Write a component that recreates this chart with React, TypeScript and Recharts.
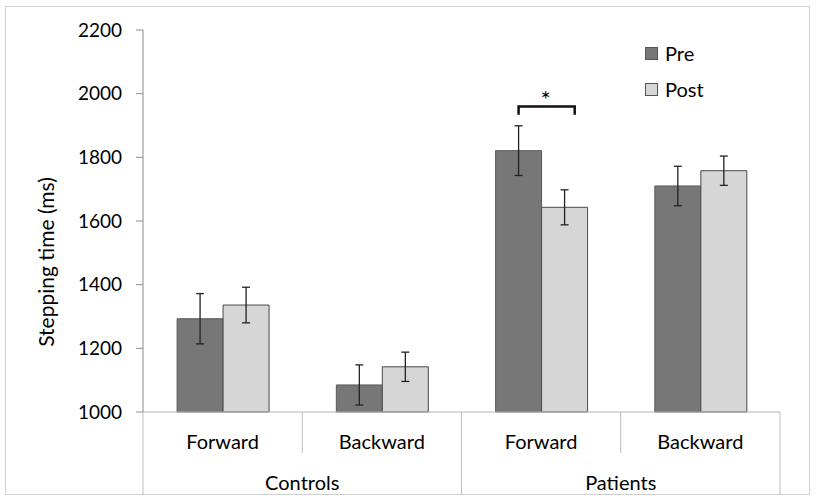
import React from 'react';
import { BarChart, Bar, XAxis, YAxis, ErrorBar, Legend } from 'recharts';

const categories = ['Forward', 'Backward', 'Forward', 'Backward'];
const groups = ['Controls', 'Controls', 'Patients', 'Patients'];
const preValues = [1293, 1085, 1821, 1710];
const preErrors = [79, 63, 78, 62];
const postValues = [1336, 1142, 1643, 1758];
const postErrors = [56, 46, 55, 46];
const yTicks = [1000, 1200, 1400, 1600, 1800, 2000, 2200];

// significance bracket over patients forward
const sigIndex = 2;
const sigLevel = 1960;
const sigLeg = 26;

const FONT = 'Lato, "DejaVu Sans", sans-serif';
const PRE_COLOR = '#777777';
const POST_COLOR = '#d6d6d6';

const data = categories.map((c, i) => ({
    key: `${groups[i]}-${c}`,
    cond: c,
    group: groups[i],
    pre: preValues[i],
    preErr: preErrors[i],
    post: postValues[i],
    postErr: postErrors[i],
}));

function CategoryTick(props: any) {
    const { x, y, payload, index } = props;
    const half = payload && payload.offset ? payload.offset : 79.6;
    const left = x - half;
    const longLine = index % 2 === 0;
    return (
        <g>
            <line x1={left} y1={y} x2={left} y2={y + (longLine ? 83 : 41)} stroke="#bdbdbd" />
            {index === categories.length - 1 && (
                <line x1={x + half} y1={y} x2={x + half} y2={y + 83} stroke="#bdbdbd" />
            )}
            <text x={x} y={y + 37} textAnchor="middle" fontFamily={FONT} fontSize={20} fill="#000">
                {categories[index]}
            </text>
            {longLine && (
                <text x={x + half} y={y + 78} textAnchor="middle" fontFamily={FONT} fontSize={20} fill="#000">
                    {groups[index]}
                </text>
            )}
        </g>
    );
}

function SigBracket(props: any) {
    const { x, y, width, height, value, index } = props;
    if (index !== sigIndex) return null;
    const perUnit = height / (value - yTicks[0]);
    const base = y + height;
    const yAt = (v: number) => base - (v - yTicks[0]) * perUnit;
    const x1 = x + width / 2;
    const x2 = x + width * 1.72;
    const top = yAt(sigLevel);
    const leg = yAt(sigLevel - sigLeg);
    return (
        <g>
            <path d={`M${x1},${leg} L${x1},${top} L${x2},${top} L${x2},${leg}`} fill="none" stroke="#111" strokeWidth={2.5} />
            <text x={(x1 + x2) / 2 - 1} y={top + 2} textAnchor="middle" fontFamily={FONT} fontSize={24} fill="#000">*</text>
        </g>
    );
}

function LegendBox() {
    const items = [
        { name: 'Pre', color: PRE_COLOR },
        { name: 'Post', color: POST_COLOR },
    ];
    return (
        <div style={{ fontFamily: FONT, fontSize: 20, color: '#000' }}>
            {items.map((it) => (
                <div key={it.name} style={{ display: 'flex', alignItems: 'center', height: 36 }}>
                    <span style={{ width: 11, height: 11, background: it.color, border: '1px solid #555', marginRight: 7 }} />
                    <span>{it.name}</span>
                </div>
            ))}
        </div>
    );
}

function YLabel() {
    return (
        <text x={45} y={262} transform="rotate(-90, 45, 262)" textAnchor="middle" dominantBaseline="central"
            fontFamily={FONT} fontSize={21} fill="#000">
            Stepping time (ms)
        </text>
    );
}

export default function App() {
    return (
        <div style={{ position: 'absolute', left: 0, top: 0, width: 817, height: 502, background: '#fff' }}>
            <div style={{ position: 'absolute', left: 5, top: 6, width: 805, height: 489, border: '1px solid #cfcfcf', boxSizing: 'border-box' }} />
            <div style={{ position: 'absolute', left: 0, top: 0 }}>
                <BarChart width={817} height={502} data={data} margin={{ top: 30, right: 37, left: 0, bottom: 7 }}
                    barCategoryGap="21.4%" barGap={0}>
                    <XAxis dataKey="key" height={83} tickSize={0} tickMargin={0} tickLine={false}
                        axisLine={{ stroke: '#b5b5b5' }} tick={<CategoryTick />} interval={0} />
                    <XAxis xAxisId="top" dataKey="key" orientation="top" height={0} tick={false} tickLine={false}
                        axisLine={{ stroke: '#7a7a7a' }} />
                    <YAxis domain={[1000, 2200]} ticks={yTicks} width={143} tickSize={7} tickMargin={14}
                        axisLine={{ stroke: '#8a8a8a' }} tickLine={{ stroke: '#8a8a8a' }}
                        tick={{ fontFamily: FONT, fontSize: 19, fill: '#000' }} label={<YLabel />} />
                    <YAxis yAxisId="right" orientation="right" width={0} type="number" domain={[0, 1]} tick={false}
                        tickLine={false} axisLine={{ stroke: '#7a7a7a' }} />
                    <Legend layout="vertical" align="center" verticalAlign="middle"
                        wrapperStyle={{ left: 645, top: 35, width: 'auto' }} content={<LegendBox />} />
                    <Bar dataKey="pre" name="Pre" fill={PRE_COLOR} stroke="#5a5a5a" strokeWidth={1}
                        isAnimationActive={false} label={<SigBracket />}>
                        <ErrorBar dataKey="preErr" width={4} stroke="#222" strokeWidth={1.3} />
                    </Bar>
                    <Bar dataKey="post" name="Post" fill={POST_COLOR} stroke="#4a4a4a" strokeWidth={1}
                        isAnimationActive={false}>
                        <ErrorBar dataKey="postErr" width={4} stroke="#222" strokeWidth={1.3} />
                    </Bar>
                </BarChart>
            </div>
        </div>
    );
}
